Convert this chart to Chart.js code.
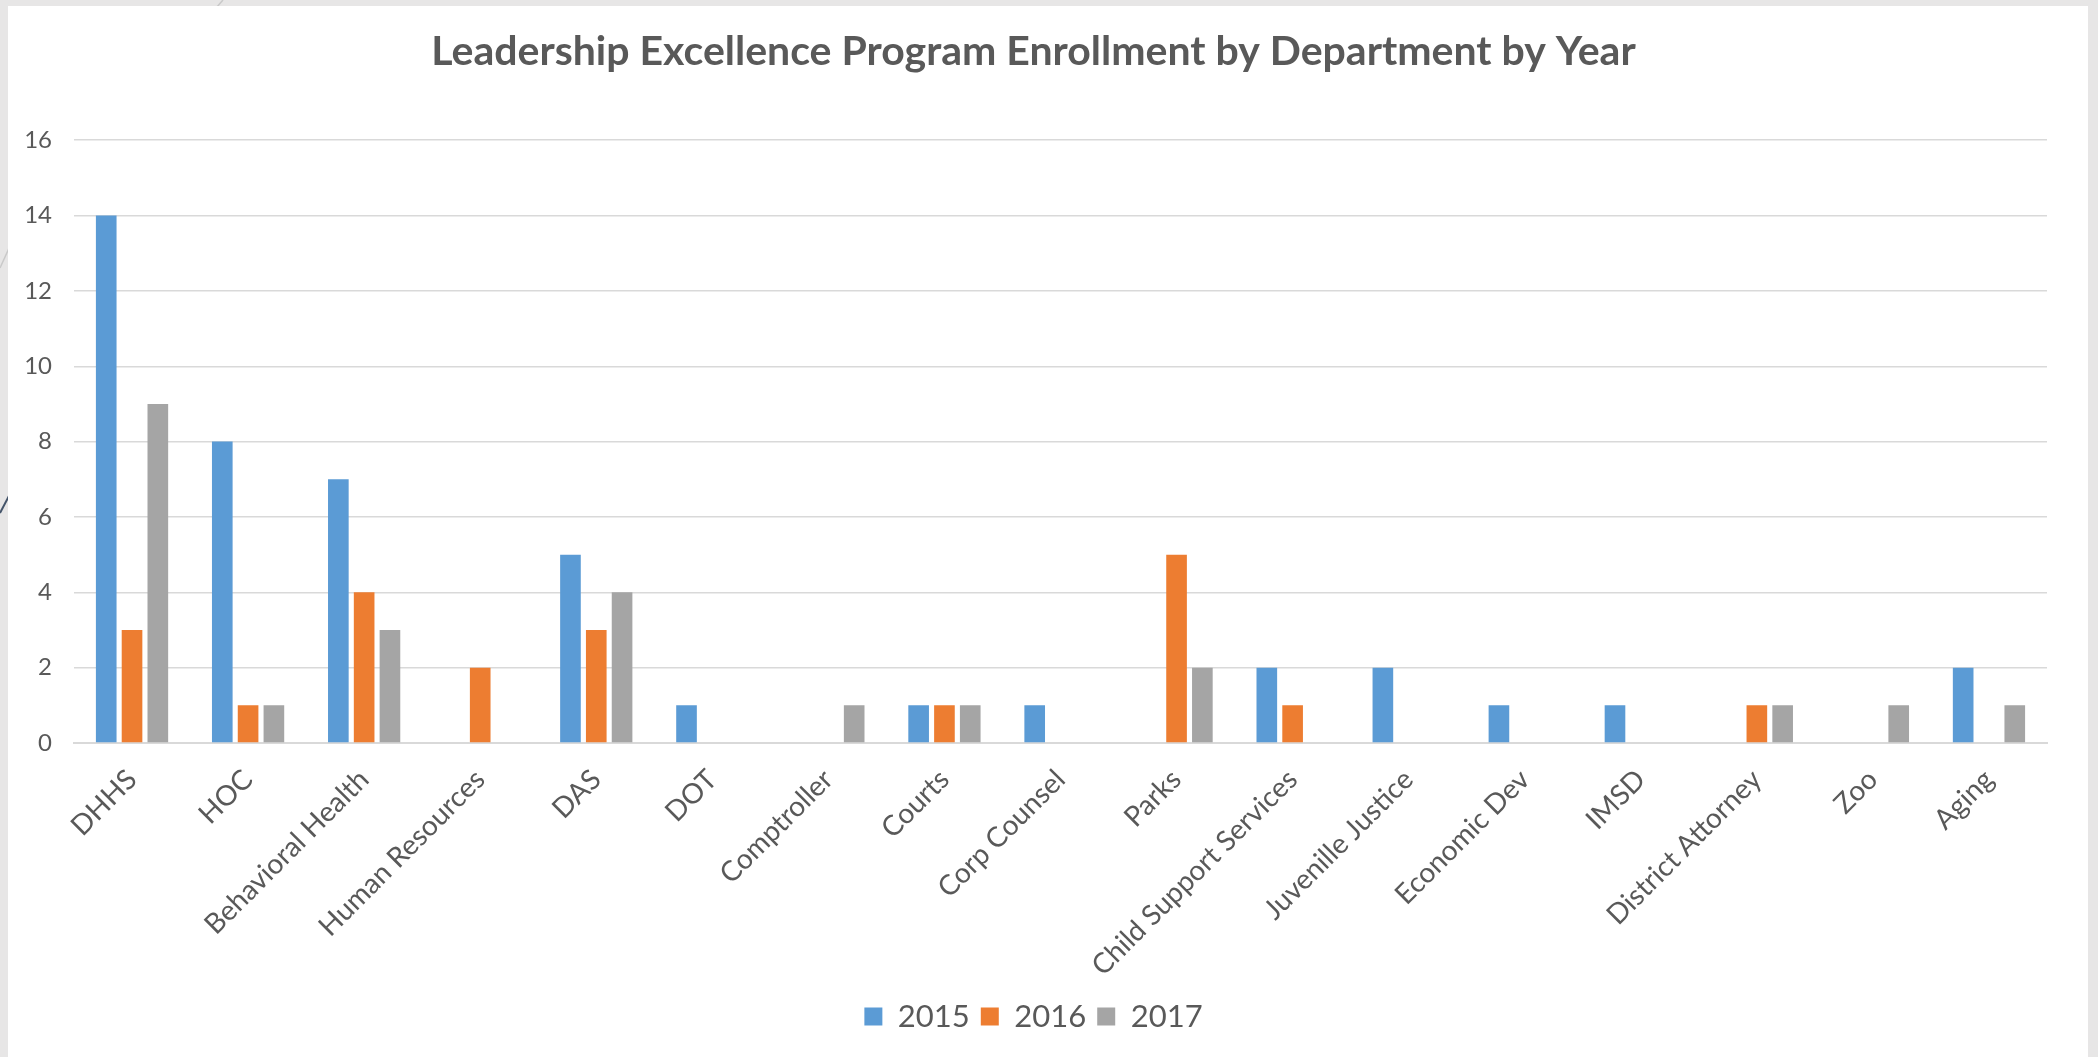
<!DOCTYPE html>
<html lang="en">
<head>
    <meta charset="UTF-8">
    <title>Leadership Excellence Program Enrollment</title>
    <script src="https://cdn.jsdelivr.net/npm/chart.js"></script>
    <style>
        html, body { margin: 0; padding: 0; }
        body { width: 2098px; height: 1057px; background: #e7e6e6; position: relative; overflow: hidden; }
        #deco { position: absolute; left: 0; top: 0; }
        #card { position: absolute; left: 8px; top: 6px; width: 2080px; height: 1060px; background: #ffffff; }
        #wrap { position: absolute; left: 0; top: 0; width: 2098px; height: 1057px; }
    </style>
</head>
<body>
    <svg id="deco" width="2098" height="1057">
        <line x1="216" y1="8" x2="223" y2="0" stroke="#c9c9c9" stroke-width="1.5" />
        <line x1="0" y1="268" x2="10" y2="246" stroke="#c9c9c9" stroke-width="1.5" />
        <line x1="0" y1="513" x2="10" y2="494" stroke="#44546a" stroke-width="2" />
    </svg>
    <div id="card"></div>
    <div id="wrap"><canvas id="enrollChart"></canvas></div>
    <script>
        const departments = ['DHHS', 'HOC', 'Behavioral Health', 'Human Resources', 'DAS', 'DOT', 'Comptroller',
            'Courts', 'Corp Counsel', 'Parks', 'Child Support Services', 'Juvenille Justice', 'Economic Dev',
            'IMSD', 'District Attorney', 'Zoo', 'Aging'];
        const enrolled2015 = [14, 8, 7, 0, 5, 1, 0, 1, 1, 0, 2, 2, 1, 1, 0, 0, 2];
        const enrolled2016 = [3, 1, 4, 2, 3, 0, 0, 1, 0, 5, 1, 0, 0, 0, 1, 0, 0];
        const enrolled2017 = [9, 1, 3, 0, 4, 0, 1, 1, 0, 2, 0, 0, 0, 0, 1, 1, 1];
        const yearLabels = ['2015', '2016', '2017'];

        const textColor = '#595959';
        const gridColor = '#d9d9d9';
        const fontName = 'Lato, "Open Sans", sans-serif';

        new Chart(document.getElementById('enrollChart').getContext('2d'), {
            type: 'bar',
            data: {
                labels: departments,
                datasets: [
                    { label: yearLabels[0], data: enrolled2015, backgroundColor: '#5b9bd5' },
                    { label: yearLabels[1], data: enrolled2016, backgroundColor: '#ed7d31' },
                    { label: yearLabels[2], data: enrolled2017, backgroundColor: '#a5a5a5' }
                ]
            },
            options: {
                responsive: true,
                maintainAspectRatio: false,
                animation: false,
                categoryPercentage: 0.667,
                barPercentage: 0.8,
                layout: {
                    padding: { left: 20, right: 51, top: 0, bottom: 15 }
                },
                plugins: {
                    title: {
                        display: true,
                        text: 'Leadership Excellence Program Enrollment by Department by Year',
                        color: textColor,
                        font: { family: fontName, size: 41, weight: 'bold' },
                        padding: { top: 27, bottom: 64 }
                    },
                    legend: {
                        position: 'bottom',
                        labels: {
                            color: textColor,
                            font: { family: fontName, size: 31 },
                            boxWidth: 18,
                            boxHeight: 18,
                            padding: 11
                        }
                    },
                    tooltip: { enabled: false }
                },
                scales: {
                    x: {
                        grid: { display: false },
                        border: { display: true, color: gridColor, width: 2 },
                        ticks: {
                            color: textColor,
                            font: { family: fontName, size: 28 },
                            autoSkip: false,
                            minRotation: 45,
                            maxRotation: 45,
                            padding: 12
                        },
                        afterFit: (scale) => { scale.height = 247; }
                    },
                    y: {
                        min: 0,
                        max: 16,
                        grid: { color: gridColor, lineWidth: 1.5, drawTicks: false },
                        border: { display: false },
                        ticks: {
                            stepSize: 2,
                            color: textColor,
                            font: { family: fontName, size: 24 },
                            padding: 22
                        },
                        afterFit: (scale) => { scale.width = 54; }
                    }
                }
            }
        });
    </script>
</body>
</html>
